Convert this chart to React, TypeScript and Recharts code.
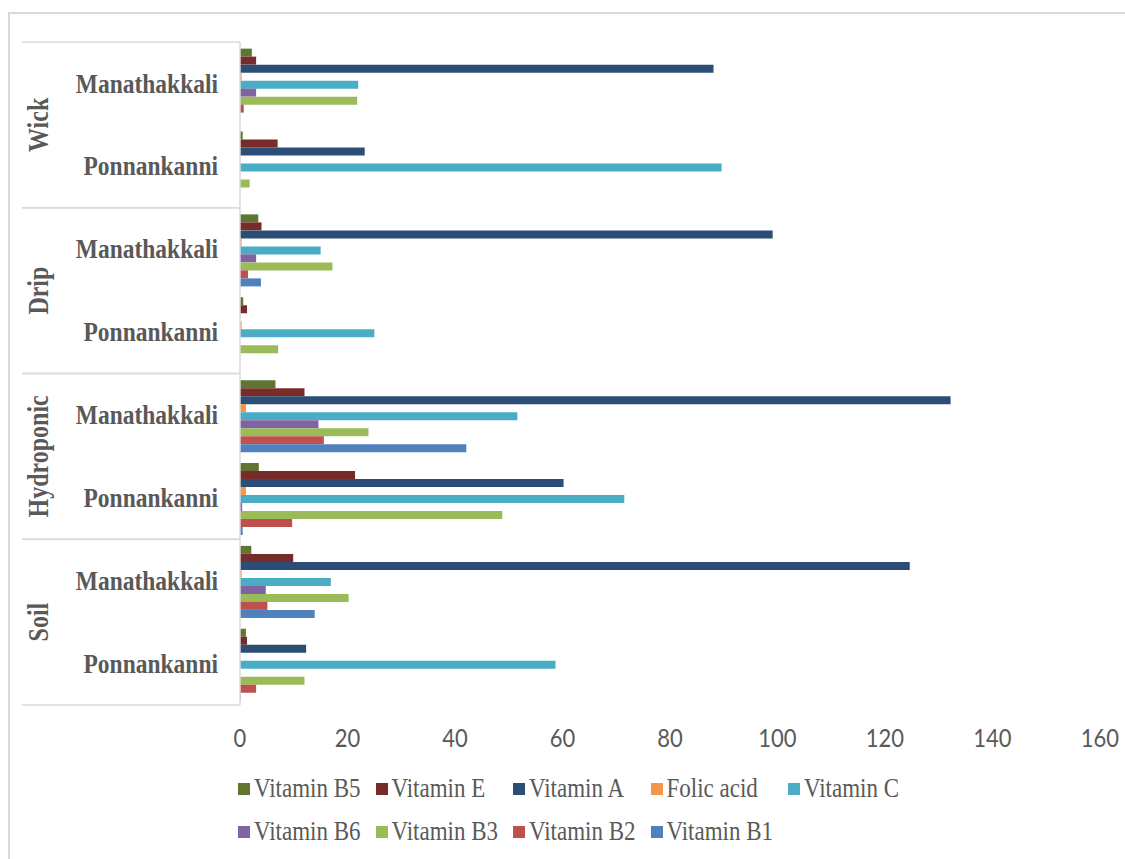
import { BarChart, Bar, XAxis, YAxis, Legend } from 'recharts';

const groups = ['Wick', 'Wick', 'Drip', 'Drip', 'Hydroponic', 'Hydroponic', 'Soil', 'Soil'];
const plants = ['Manathakkali', 'Ponnankanni', 'Manathakkali', 'Ponnankanni', 'Manathakkali', 'Ponnankanni', 'Manathakkali', 'Ponnankanni'];

const vitaminB5 = [2.2, 0.5, 3.4, 0.6, 6.6, 3.5, 2.1, 1.1];
const vitaminE = [3.0, 7.0, 4.0, 1.3, 12.0, 21.4, 9.9, 1.3];
const vitaminA = [88.1, 23.2, 99.1, 0, 132.2, 60.2, 124.6, 12.3];
const folicAcid = [0.3, 0, 0.3, 0.3, 1.1, 1.1, 0.3, 0];
const vitaminC = [22.0, 89.6, 15.0, 25.0, 51.6, 71.5, 16.9, 58.7];
const vitaminB6 = [3.0, 0, 3.0, 0, 14.6, 0.4, 4.8, 0];
const vitaminB3 = [21.8, 1.8, 17.2, 7.1, 23.9, 48.8, 20.2, 12.0];
const vitaminB2 = [0.7, 0, 1.5, 0, 15.6, 9.7, 5.1, 3.0];
const vitaminB1 = [0, 0, 3.9, 0, 42.1, 0.5, 13.9, 0.1];

const xTicks = [0, 20, 40, 60, 80, 100, 120, 140, 160];

const series = [
  { key: 'b5', name: 'Vitamin B5', values: vitaminB5, color: '#5f7530' },
  { key: 'e', name: 'Vitamin E', values: vitaminE, color: '#772c2a' },
  { key: 'a', name: 'Vitamin A', values: vitaminA, color: '#2c4d75' },
  { key: 'folic', name: 'Folic acid', values: folicAcid, color: '#f79646' },
  { key: 'c', name: 'Vitamin C', values: vitaminC, color: '#4bacc6' },
  { key: 'b6', name: 'Vitamin B6', values: vitaminB6, color: '#8064a2' },
  { key: 'b3', name: 'Vitamin B3', values: vitaminB3, color: '#9bbb59' },
  { key: 'b2', name: 'Vitamin B2', values: vitaminB2, color: '#c0504d' },
  { key: 'b1', name: 'Vitamin B1', values: vitaminB1, color: '#4f81bd' },
];

const data = plants.map((plant, i) => {
  const row: Record<string, string | number> = { cat: `${groups[i]}|${plant}` };
  series.forEach((s) => {
    row[s.key] = s.values[i];
  });
  return row;
});

const PLOT_TOP = 42;
const PLOT_BOTTOM = 705;
const BAND = (PLOT_BOTTOM - PLOT_TOP) / plants.length;
const GRAY = '#595959';
const LINE = '#d9d9d9';
const SERIF = '"Times New Roman", "Liberation Serif", serif';

const CategoryTick = (props: any) => {
  const { y, payload } = props;
  const [group, plant] = String(payload.value).split('|');
  const half = BAND / 2;
  const isTop = plant === 'Manathakkali';
  return (
    <g>
      <text
        transform={`translate(218, ${y}) scale(1, 1.18)`}
        textAnchor="end"
        dominantBaseline="central"
        fill={GRAY}
        fontFamily={SERIF}
        fontWeight="bold"
        fontSize={23.5}
      >
        {plant}
      </text>
      {isTop ? (
        <>
          <line x1={22} x2={240} y1={y - half} y2={y - half} stroke={LINE} strokeWidth={1.5} />
          <text
            transform={`translate(38, ${y + half}) rotate(-90) scale(1, 1.2)`}
            textAnchor="middle"
            dominantBaseline="central"
            fill={GRAY}
            fontFamily={SERIF}
            fontWeight="bold"
            fontSize={24}
          >
            {group}
          </text>
        </>
      ) : (
        <line x1={22} x2={240} y1={y + half} y2={y + half} stroke={LINE} strokeWidth={1.5} />
      )}
    </g>
  );
};

const ValueTick = (props: any) => {
  const { x, y, payload } = props;
  return (
    <text
      transform={`translate(${x}, ${y}) scale(1, 1.15)`}
      textAnchor="middle"
      dominantBaseline="hanging"
      fill={GRAY}
      fontFamily="Lato, sans-serif"
      fontSize={22}
    >
      {payload.value}
    </text>
  );
};

const renderLegend = () => (
  <div style={{ display: 'flex', flexWrap: 'wrap', width: 700, height: 86 }}>
    {series.map((s) => (
      <div key={s.key} style={{ width: 137.5, height: 43, display: 'flex', alignItems: 'center' }}>
        <span style={{ width: 12, height: 12, background: s.color, marginRight: 4, flexShrink: 0 }} />
        <span
          style={{
            fontFamily: SERIF,
            fontSize: 23,
            color: GRAY,
            whiteSpace: 'nowrap',
            display: 'inline-block',
            transform: 'scale(1, 1.18)',
          }}
        >
          {s.name}
        </span>
      </div>
    ))}
  </div>
);

export default function App() {
  return (
    <div style={{ position: 'absolute', left: 0, top: 0, width: 1125, height: 859, overflow: 'hidden', background: '#fff' }}>
      <div
        style={{
          position: 'absolute',
          left: 8,
          top: 12,
          width: 1117,
          height: 847,
          borderLeft: `2px solid ${LINE}`,
          borderTop: `2px solid ${LINE}`,
          boxSizing: 'border-box',
        }}
      />
      <div style={{ position: 'absolute', left: 0, top: 0 }}>
        <BarChart
          width={1125}
          height={859}
          data={data}
          layout="vertical"
          margin={{ top: PLOT_TOP, right: 25, left: 0, bottom: 18 }}
          barCategoryGap="8%"
          barGap={0}
        >
          <XAxis
            type="number"
            domain={[0, 160]}
            ticks={xTicks}
            axisLine={false}
            tickLine={false}
            tickMargin={16}
            height={50}
            tick={<ValueTick />}
          />
          <YAxis
            type="category"
            dataKey="cat"
            width={240}
            interval={0}
            axisLine={{ stroke: LINE, strokeWidth: 1.5 }}
            tickLine={false}
            tick={<CategoryTick />}
          />
          <Legend verticalAlign="bottom" content={renderLegend} wrapperStyle={{ left: 238, top: 767, width: 700 }} />
          {series.map((s) => (
            <Bar key={s.key} dataKey={s.key} name={s.name} fill={s.color} isAnimationActive={false} />
          ))}
        </BarChart>
      </div>
    </div>
  );
}
